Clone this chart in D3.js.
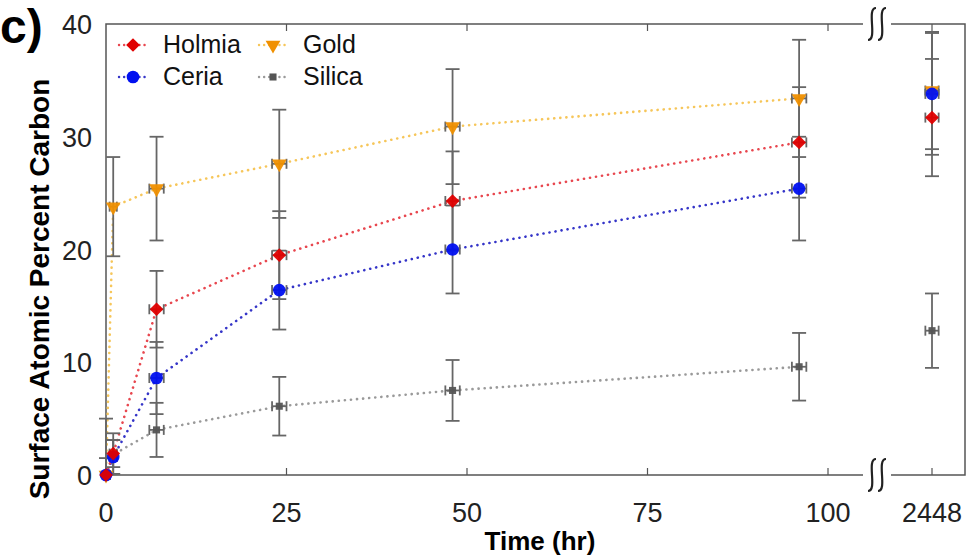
<!DOCTYPE html>
<html>
<head>
<meta charset="utf-8">
<script src="https://cdn.jsdelivr.net/npm/d3@7"></script>
<style>
  body { margin: 0; background: #fff; }
  text { font-family: "Liberation Sans", Arial, sans-serif; }
</style>
</head>
<body>
<div id="chart"></div>
<script>
var times = [0, 1, 7, 24, 48, 96, 2448],
    timeErr = [0.5, 0.5, 1, 1, 1, 1, 150];

var names = ["Holmia", "Ceria", "Gold", "Silica"];
var holmia = [0, 1.9, 14.7, 19.5, 24.3, 29.5, 31.7],
    holmiaErr = [0, 1.2, 3.4, 3.9, 4.4, 4.9, 5.2],
    ceria = [0, 1.6, 8.6, 16.4, 20.0, 25.4, 33.8],
    ceriaErr = [0, 1.5, 3.2, 3.5, 3.9, 4.6, 5.4],
    gold = [0, 23.8, 25.4, 27.6, 30.9, 33.4, 34.1],
    goldErr = [5, 4.4, 4.6, 4.8, 5.1, 5.2, 5.2],
    silica = [0, 1.8, 4.0, 6.1, 7.5, 9.6, 12.8],
    silicaErr = [1.5, 1.9, 2.4, 2.6, 2.7, 3.0, 3.3];

var xTicks = [0, 25, 50, 75, 100, 2448],
    yTicks = [0, 10, 20, 30, 40];

var W = 971, H = 558,
    plotL = 106, plotR = 965, plotT = 24, plotB = 475;

// broken axis: 0-100 linear, then jump to 2448
var x = d3.scaleLinear().domain([0, 100, 2448]).range([plotL, 828, 932]);
var y = d3.scaleLinear().domain([0, 40]).range([plotB, plotT]);

var series = [
  {name: "Holmia", vals: holmia, err: holmiaErr, marker: "#e00000", line: "#e8474f", sym: d3.symbolDiamond2, size: 120, rot: 0},
  {name: "Ceria", vals: ceria, err: ceriaErr, marker: "#0010f0", line: "#3535c8", sym: d3.symbolCircle, size: 125, rot: 0},
  {name: "Gold", vals: gold, err: goldErr, marker: "#f09000", line: "#f6c65a", sym: d3.symbolTriangle, size: 95, rot: 180},
  {name: "Silica", vals: silica, err: silicaErr, marker: "#555555", line: "#9a9a9a", sym: d3.symbolSquare, size: 50, rot: 0}
];
// drawing order: silica, gold, ceria, holmia
var order = [3, 2, 1, 0];

var svg = d3.select("#chart").append("svg")
  .attr("width", W).attr("height", H);

// frame
svg.append("rect")
  .attr("x", plotL).attr("y", plotT)
  .attr("width", plotR - plotL).attr("height", plotB - plotT)
  .attr("fill", "none").attr("stroke", "#555").attr("stroke-width", 1.5);

// ticks (inward)
svg.selectAll("line.xt").data(xTicks.filter(function(d) { return d > 0; }))
  .enter().append("line").attr("class", "xt")
  .attr("x1", function(d) { return x(d); }).attr("x2", function(d) { return x(d); })
  .attr("y1", plotB).attr("y2", plotB - 7)
  .attr("stroke", "#555").attr("stroke-width", 1.2);
svg.selectAll("line.xtt").data(xTicks.filter(function(d) { return d > 0; }))
  .enter().append("line").attr("class", "xtt")
  .attr("x1", function(d) { return x(d); }).attr("x2", function(d) { return x(d); })
  .attr("y1", plotT).attr("y2", plotT + 7)
  .attr("stroke", "#555").attr("stroke-width", 1.2);

// tick labels
svg.selectAll("text.xl").data(xTicks)
  .enter().append("text").attr("class", "xl")
  .attr("x", function(d) { return x(d); }).attr("y", 522)
  .attr("text-anchor", "middle").attr("font-size", 27).attr("fill", "#222")
  .text(function(d) { return d; });
svg.selectAll("text.yl").data(yTicks)
  .enter().append("text").attr("class", "yl")
  .attr("x", 92).attr("y", function(d) { return y(d) + 10; })
  .attr("text-anchor", "end").attr("font-size", 27).attr("fill", "#222")
  .text(function(d) { return d; });

// axis titles
svg.append("text")
  .attr("x", 540).attr("y", 550)
  .attr("text-anchor", "middle").attr("font-size", 26).attr("font-weight", "bold")
  .text("Time (hr)");
svg.append("text")
  .attr("transform", "translate(49,289) rotate(-90)")
  .attr("text-anchor", "middle").attr("font-size", 28).attr("font-weight", "bold")
  .text("Surface Atomic Percent Carbon");
svg.append("text")
  .attr("x", 0).attr("y", 43)
  .attr("font-size", 48).attr("font-weight", "bold")
  .text("c)");

// axis break marks
function breakMark(cx, cy) {
  svg.append("rect").attr("x", cx - 14).attr("y", cy - 4).attr("width", 28).attr("height", 8).attr("fill", "#fff");
  [-5, 5].forEach(function(dx) {
    svg.append("path")
      .attr("d", "M" + (cx + dx + 4) + "," + (cy - 16) +
        " C" + (cx + dx - 6) + "," + (cy - 16) + " " + (cx + dx + 6) + "," + (cy + 16) + " " + (cx + dx - 4) + "," + (cy + 16))
      .attr("fill", "none").attr("stroke", "#222").attr("stroke-width", 2.2);
  });
}
breakMark(877, plotT);
breakMark(877, plotB);

// dotted connecting lines (not across the break)
var line = d3.line()
  .x(function(d) { return x(d[0]); })
  .y(function(d) { return y(d[1]); });

order.forEach(function(si) {
  var s = series[si];
  var pts = times.slice(0, 6).map(function(t, i) { return [t, s.vals[i]]; });
  svg.append("path")
    .attr("d", line(pts))
    .attr("fill", "none")
    .attr("stroke", s.line)
    .attr("stroke-width", 2.6)
    .attr("stroke-linecap", "round")
    .attr("stroke-dasharray", "0.1,6");
});

// error bars
var capW = 7, capH = 5;
order.forEach(function(si) {
  var s = series[si];
  var g = svg.append("g").attr("stroke", "#666").attr("stroke-width", 1.8).attr("fill", "none");
  times.forEach(function(t, i) {
    var cx = x(t), cy = y(s.vals[i]), e = s.err[i];
    if (e > 0) {
      var y1 = y(s.vals[i] + e), y2 = y(Math.max(0, s.vals[i] - e));
      g.append("line").attr("x1", cx).attr("x2", cx).attr("y1", y1).attr("y2", y2);
      g.append("line").attr("x1", cx - capW).attr("x2", cx + capW).attr("y1", y1).attr("y2", y1);
      if (s.vals[i] - e > 0)
        g.append("line").attr("x1", cx - capW).attr("x2", cx + capW).attr("y1", y2).attr("y2", y2);
    }
    var xa = x(Math.max(0, t - timeErr[i])), xb = x(t + timeErr[i]);
    g.append("line").attr("x1", xa).attr("x2", xb).attr("y1", cy).attr("y2", cy);
    g.append("line").attr("x1", xa).attr("x2", xa).attr("y1", cy - capH).attr("y2", cy + capH);
    g.append("line").attr("x1", xb).attr("x2", xb).attr("y1", cy - capH).attr("y2", cy + capH);
  });
});

// markers
order.forEach(function(si) {
  var s = series[si];
  svg.append("g").selectAll("path")
    .data(times.map(function(t, i) { return [t, s.vals[i]]; }))
    .enter().append("path")
    .attr("d", d3.symbol().type(s.sym).size(s.size))
    .attr("transform", function(d) { return "translate(" + x(d[0]) + "," + y(d[1]) + ") rotate(" + s.rot + ")"; })
    .attr("fill", s.marker)
    .attr("opacity", 0.95);
});

// legend
var legPos = [[133, 45], [133, 77], [273, 45], [273, 77]];
series.forEach(function(s, i) {
  var p = legPos[i];
  var g = svg.append("g").attr("transform", "translate(" + p[0] + "," + p[1] + ")");
  g.append("line").attr("x1", -14).attr("x2", 16).attr("y1", 0).attr("y2", 0)
    .attr("stroke", s.line).attr("stroke-width", 2.4).attr("stroke-linecap", "round")
    .attr("stroke-dasharray", "0.1,5");
  g.append("path").attr("d", d3.symbol().type(s.sym).size(s.size))
    .attr("transform", "rotate(" + s.rot + ")").attr("fill", s.marker);
  g.append("text").attr("x", 30).attr("y", 8).attr("font-size", 25).attr("fill", "#111").text(s.name);
});
</script>
</body>
</html>
